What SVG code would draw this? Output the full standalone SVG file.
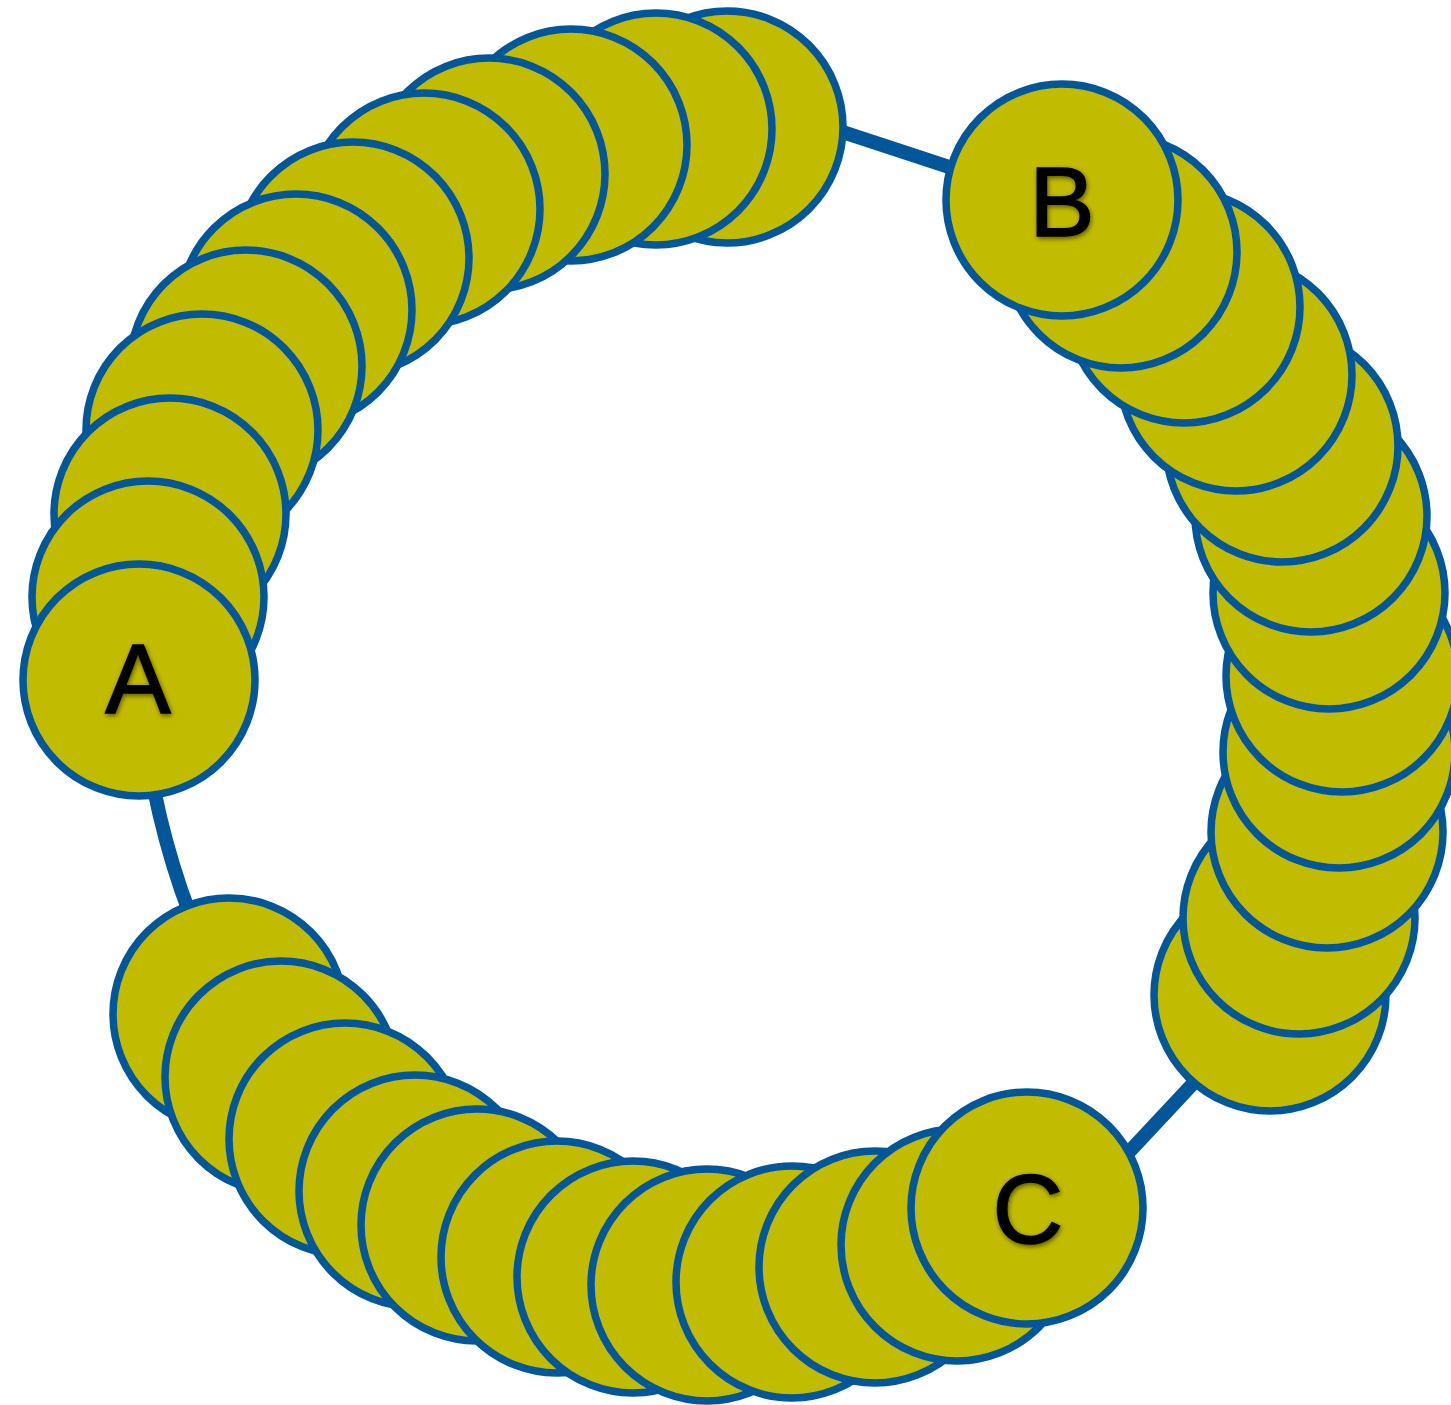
<svg xmlns="http://www.w3.org/2000/svg" width="1451" height="1405" viewBox="0 0 1451 1405">
<defs>
<style>
.n{fill:#C2BC00;stroke:#01579A;stroke-width:7.5}
.e{fill:none;stroke:#01579A;stroke-width:14}
.lbl{font-family:"Liberation Sans","DejaVu Sans",sans-serif;font-size:98px;text-anchor:middle;fill:#000;stroke:#000;stroke-width:1.5;filter:url(#sh)}
</style>
<filter id="sh" x="-30%" y="-30%" width="160%" height="160%">
<feDropShadow dx="1" dy="2" stdDeviation="2.5" flood-color="#000" flood-opacity="0.55"/>
</filter>
</defs>
<rect width="1451" height="1405" fill="#fff"/>
<g id="connectors">
<path class="e" d="M139,679 C139,330 480,20 800,118 L1062,204"/>
<path class="e" d="M1062,200 C1400,350 1420,850 1230,1044 L1101,1182 L1027,1208"/>
<path class="e" d="M1027,1208 C500,1300 265,1100 210,962 C163,860 145,760 139,679"/>
</g>
<g id="ghost-a11"><circle class="n" cx="727" cy="127" r="116"/></g>
<g id="ghost-a10"><circle class="n" cx="656" cy="129" r="116"/></g>
<g id="ghost-a9"><circle class="n" cx="571" cy="145" r="116"/></g>
<g id="ghost-a8"><circle class="n" cx="489" cy="174" r="116"/></g>
<g id="ghost-a7"><circle class="n" cx="424" cy="209" r="116"/></g>
<g id="ghost-a6"><circle class="n" cx="353" cy="258" r="116"/></g>
<g id="ghost-a5"><circle class="n" cx="296" cy="310" r="116"/></g>
<g id="ghost-a4"><circle class="n" cx="246" cy="366" r="116"/></g>
<g id="ghost-a3"><circle class="n" cx="202" cy="430" r="116"/></g>
<g id="ghost-a2"><circle class="n" cx="170" cy="514" r="116"/></g>
<g id="ghost-a1"><circle class="n" cx="148" cy="597" r="116"/></g>
<g id="node-A"><circle class="n" cx="139" cy="680" r="116"/><text class="lbl" x="138" y="713">A</text></g>
<g id="ghost-b11"><circle class="n" cx="1270" cy="995" r="116"/></g>
<g id="ghost-b10"><circle class="n" cx="1299" cy="918" r="116"/></g>
<g id="ghost-b9"><circle class="n" cx="1327" cy="832" r="116"/></g>
<g id="ghost-b8"><circle class="n" cx="1339" cy="752" r="116"/></g>
<g id="ghost-b7"><circle class="n" cx="1342" cy="676" r="116"/></g>
<g id="ghost-b6"><circle class="n" cx="1329" cy="593" r="116"/></g>
<g id="ghost-b5"><circle class="n" cx="1311" cy="516" r="116"/></g>
<g id="ghost-b4"><circle class="n" cx="1282" cy="446" r="116"/></g>
<g id="ghost-b3"><circle class="n" cx="1236" cy="375" r="116"/></g>
<g id="ghost-b2"><circle class="n" cx="1184" cy="307" r="116"/></g>
<g id="ghost-b1"><circle class="n" cx="1121" cy="252" r="116"/></g>
<g id="node-B"><circle class="n" cx="1062" cy="200" r="116"/><text class="lbl" x="1062" y="236">B</text></g>
<g id="ghost-c11"><circle class="n" cx="229" cy="1014" r="116"/></g>
<g id="ghost-c10"><circle class="n" cx="281" cy="1077" r="116"/></g>
<g id="ghost-c9"><circle class="n" cx="345" cy="1139" r="116"/></g>
<g id="ghost-c8"><circle class="n" cx="415" cy="1191" r="116"/></g>
<g id="ghost-c7"><circle class="n" cx="477" cy="1225" r="116"/></g>
<g id="ghost-c6"><circle class="n" cx="557" cy="1257" r="116"/></g>
<g id="ghost-c5"><circle class="n" cx="633" cy="1277" r="116"/></g>
<g id="ghost-c4"><circle class="n" cx="707" cy="1285" r="116"/></g>
<g id="ghost-c3"><circle class="n" cx="792" cy="1282" r="116"/></g>
<g id="ghost-c2"><circle class="n" cx="875" cy="1267" r="116"/></g>
<g id="ghost-c1"><circle class="n" cx="957" cy="1245" r="116"/></g>
<g id="node-C"><circle class="n" cx="1027" cy="1208" r="116"/><text class="lbl" x="1028" y="1243">C</text></g>
</svg>
